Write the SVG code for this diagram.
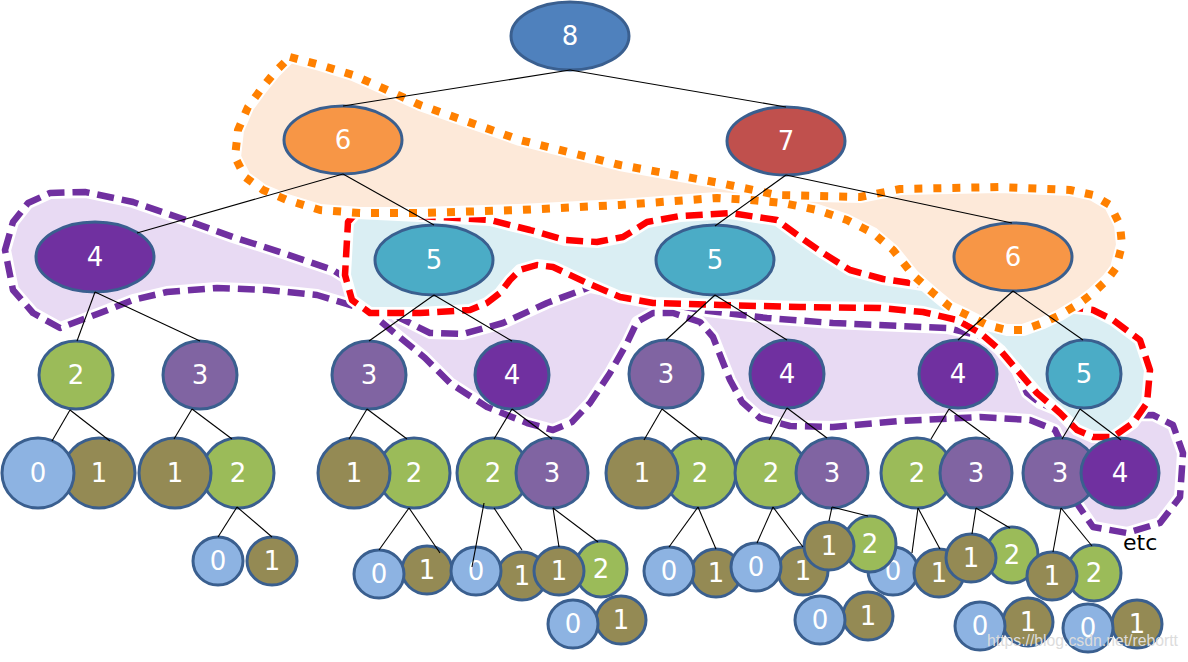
<svg xmlns="http://www.w3.org/2000/svg" xmlns:xlink="http://www.w3.org/1999/xlink" width="1188" height="662" viewBox="0 0 1188 662">
<style>
.bg{fill:#fff}
.halo{stroke:#fff;stroke-width:12;stroke-linejoin:round}
.pf{fill:#E8DAF3}
.bf{fill:#DAEEF3}
.of{fill:#FDE9D9}
.pd{fill:none;stroke:#7030A0;stroke-width:6.5;stroke-dasharray:17 8;stroke-linejoin:round}
.rd{fill:none;stroke:#FF0000;stroke-width:6.5;stroke-dasharray:17 8;stroke-linejoin:round}
.od{fill:none;stroke:#FF8000;stroke-width:8;stroke-dasharray:8 11;stroke-linejoin:round}
.n ellipse{stroke:#3A5F8F;stroke-width:3}
.n text{font-family:"DejaVu Sans",sans-serif;font-size:26px;fill:#fff;text-anchor:middle}
.c0{fill:#8DB3E2}.c1{fill:#948A54}.c2{fill:#9BBB59}.c3{fill:#8064A2}.c4{fill:#7030A0}
.c5{fill:#4BACC6}.c6{fill:#F79646}.c7{fill:#C0504D}.c8{fill:#4F81BD}
#conn line{stroke:#000;stroke-width:1.1}
</style>
<defs>
<path id="purp" d="M5,250 L13,222 L28,203 L50,193 L85,192 L133,202 L183,219 L233,237 L283,253 L333,270 L365,290 L400,318 L430,333 L463,334 L503,323 L547,303 L590,287 L650,300 L700,310 L767,318 L833,323 L900,326 L947,328 L977,335 L1000,345 L1017,370 L1027,393 L1040,403 L1057,410 L1077,416 L1100,416 L1153,415 L1173,425 L1183,453 L1180,497 L1160,523 L1127,533 L1093,527 L1078,505 L1070,460 L1055,430 L1030,420 L980,417 L900,421 L833,427 L790,426 L760,418 L742,402 L730,380 L722,360 L713,337 L700,322 L673,313 L653,313 L637,322 L627,343 L610,373 L590,403 L572,422 L553,430 L527,423 L487,407 L450,383 L425,358 L397,335 L367,310 L317,295 L267,290 L217,288 L167,292 L133,300 L100,313 L60,328 L33,313 L13,290 Z"/>
<path id="blue" d="M348,222 L356,213 L420,216 L490,220 L530,230 L565,240 L597,242 L623,237 L647,222 L680,216 L730,213 L777,220 L800,237 L823,253 L850,270 L883,279 L923,285 L1000,298 L1067,307 L1093,310 L1113,320 L1140,340 L1150,370 L1147,403 L1133,423 L1113,437 L1093,437 L1077,430 L1060,413 L1037,393 L1017,370 L1000,350 L980,333 L957,320 L923,312 L880,308 L800,307 L720,305 L653,303 L620,297 L587,283 L553,267 L537,265 L520,270 L510,280 L500,293 L487,303 L470,310 L420,313 L370,313 L352,300 L345,275 Z"/>
<path id="oran" d="M290,57 L320,65 L353,75 L387,90 L420,105 L520,140 L620,165 L720,183 L777,195 L860,197 L900,189 L1000,187 L1070,190 L1093,195 L1110,205 L1120,225 L1122,245 L1116,268 L1107,280 L1093,293 L1080,303 L1060,315 L1043,323 L1023,330 L1007,330 L987,325 L967,315 L950,307 L933,293 L913,275 L893,250 L873,233 L847,220 L817,210 L783,203 L750,200 L717,198 L620,205 L520,210 L420,213 L360,213 L320,210 L287,200 L263,190 L245,177 L235,157 L238,130 L248,107 L262,88 L275,72 Z"/>
</defs>
<rect class="bg" x="0" y="0" width="1188" height="662"/>
<g id="groups">
<use xlink:href="#purp" class="pf halo"/>
<use xlink:href="#purp" class="pd"/>
<use xlink:href="#blue" class="bf halo"/>
<use xlink:href="#blue" class="rd"/>
<use xlink:href="#oran" class="of halo"/>
<use xlink:href="#oran" class="od"/>
</g>
<g id="nodes" class="n">
<g id="n8"><ellipse class="c8" cx="570" cy="36" rx="59" ry="34"/><text x="570" y="45">8</text></g>
<g id="n6a"><ellipse class="c6" cx="343" cy="140" rx="59" ry="34"/><text x="343" y="149">6</text></g>
<g id="n7"><ellipse class="c7" cx="786" cy="141" rx="59" ry="34"/><text x="786" y="150">7</text></g>
<g id="n4a"><ellipse class="c4" cx="95" cy="257" rx="59" ry="35"/><text x="95" y="266">4</text></g>
<g id="n5a"><ellipse class="c5" cx="434" cy="260" rx="59" ry="35"/><text x="434" y="269">5</text></g>
<g id="n5b"><ellipse class="c5" cx="715" cy="260" rx="59" ry="35"/><text x="715" y="269">5</text></g>
<g id="n6b"><ellipse class="c6" cx="1013" cy="257" rx="59" ry="34"/><text x="1013" y="266">6</text></g>

<g id="n2a"><ellipse class="c2" cx="76" cy="375" rx="37" ry="34"/><text x="76" y="384">2</text></g>
<g id="n3a"><ellipse class="c3" cx="200" cy="375" rx="37" ry="34"/><text x="200" y="384">3</text></g>
<g id="n3b"><ellipse class="c3" cx="369" cy="375" rx="37" ry="34"/><text x="369" y="384">3</text></g>
<g id="n4b"><ellipse class="c4" cx="512" cy="375" rx="37" ry="34"/><text x="512" y="384">4</text></g>
<g id="n3c"><ellipse class="c3" cx="666" cy="374" rx="37" ry="34"/><text x="666" y="383">3</text></g>
<g id="n4c"><ellipse class="c4" cx="787" cy="374" rx="37" ry="34"/><text x="787" y="383">4</text></g>
<g id="n4d"><ellipse class="c4" cx="958" cy="374" rx="39" ry="34"/><text x="958" y="383">4</text></g>
<g id="n5c"><ellipse class="c5" cx="1084" cy="374" rx="37" ry="34"/><text x="1084" y="383">5</text></g>

<g id="l4a1"><ellipse class="c1" cx="99" cy="473" rx="36" ry="35"/><text x="99" y="482">1</text></g>
<g id="l4a0"><ellipse class="c0" cx="38" cy="473" rx="36" ry="35"/><text x="38" y="482">0</text></g>
<g id="l4b2"><ellipse class="c2" cx="238" cy="473" rx="36" ry="35"/><text x="238" y="482">2</text></g>
<g id="l4b1"><ellipse class="c1" cx="175" cy="473" rx="36" ry="35"/><text x="175" y="482">1</text></g>
<g id="l4c2"><ellipse class="c2" cx="414" cy="473" rx="36" ry="35"/><text x="414" y="482">2</text></g>
<g id="l4c1"><ellipse class="c1" cx="354" cy="473" rx="36" ry="35"/><text x="354" y="482">1</text></g>
<g id="l4d2"><ellipse class="c2" cx="493" cy="473" rx="36" ry="35"/><text x="493" y="482">2</text></g>
<g id="l4d3"><ellipse class="c3" cx="552" cy="473" rx="36" ry="35"/><text x="552" y="482">3</text></g>
<g id="l4e2"><ellipse class="c2" cx="700" cy="473" rx="36" ry="35"/><text x="700" y="482">2</text></g>
<g id="l4e1"><ellipse class="c1" cx="642" cy="473" rx="36" ry="35"/><text x="642" y="482">1</text></g>
<g id="l4f2"><ellipse class="c2" cx="771" cy="473" rx="36" ry="35"/><text x="771" y="482">2</text></g>
<g id="l4f3"><ellipse class="c3" cx="832" cy="473" rx="36" ry="35"/><text x="832" y="482">3</text></g>
<g id="l4g2"><ellipse class="c2" cx="917" cy="473" rx="36" ry="35"/><text x="917" y="482">2</text></g>
<g id="l4g3"><ellipse class="c3" cx="976" cy="473" rx="36" ry="35"/><text x="976" y="482">3</text></g>
<g id="l4h3"><ellipse class="c3" cx="1060" cy="473" rx="37" ry="35"/><text x="1060" y="482">3</text></g>
<g id="l4h4"><ellipse class="c4" cx="1120" cy="473" rx="39" ry="35"/><text x="1120" y="482">4</text></g>

<g id="s01"><ellipse class="c1" cx="272" cy="561" rx="25" ry="24"/><text x="272" y="570">1</text></g>
<g id="s02"><ellipse class="c0" cx="218" cy="561" rx="25" ry="24"/><text x="218" y="570">0</text></g>
<g id="s03"><ellipse class="c1" cx="427" cy="570" rx="25" ry="24"/><text x="427" y="579">1</text></g>
<g id="s04"><ellipse class="c0" cx="379" cy="574" rx="25" ry="24"/><text x="379" y="583">0</text></g>
<g id="s05"><ellipse class="c1" cx="522" cy="576" rx="25" ry="24"/><text x="522" y="585">1</text></g>
<g id="s06"><ellipse class="c0" cx="476" cy="571" rx="25" ry="24"/><text x="476" y="580">0</text></g>
<g id="s07"><ellipse class="c2" cx="601" cy="569" rx="26" ry="28"/><text x="601" y="578">2</text></g>
<g id="s08"><ellipse class="c1" cx="559" cy="571" rx="25" ry="24"/><text x="559" y="580">1</text></g>
<g id="s09"><ellipse class="c1" cx="621" cy="620" rx="25" ry="24"/><text x="621" y="629">1</text></g>
<g id="s10"><ellipse class="c0" cx="573" cy="624" rx="25" ry="24"/><text x="573" y="633">0</text></g>
<g id="s11"><ellipse class="c1" cx="716" cy="573" rx="25" ry="24"/><text x="716" y="582">1</text></g>
<g id="s12"><ellipse class="c0" cx="669" cy="571" rx="25" ry="24"/><text x="669" y="580">0</text></g>
<g id="s13"><ellipse class="c1" cx="803" cy="571" rx="25" ry="24"/><text x="803" y="580">1</text></g>
<g id="s14"><ellipse class="c0" cx="756" cy="567" rx="25" ry="24"/><text x="756" y="576">0</text></g>
<g id="s15"><ellipse class="c0" cx="893" cy="571" rx="25" ry="24"/><text x="893" y="580">0</text></g>
<g id="s16"><ellipse class="c2" cx="870" cy="544" rx="26" ry="28"/><text x="870" y="553">2</text></g>
<g id="s17"><ellipse class="c1" cx="829" cy="546" rx="25" ry="24"/><text x="829" y="555">1</text></g>
<g id="s18"><ellipse class="c1" cx="868" cy="616" rx="25" ry="24"/><text x="868" y="625">1</text></g>
<g id="s19"><ellipse class="c0" cx="820" cy="620" rx="25" ry="24"/><text x="820" y="629">0</text></g>
<g id="s20"><ellipse class="c1" cx="939" cy="573" rx="25" ry="24"/><text x="939" y="582">1</text></g>
<g id="s21"><ellipse class="c2" cx="1012" cy="555" rx="26" ry="28"/><text x="1012" y="564">2</text></g>
<g id="s22"><ellipse class="c1" cx="971" cy="558" rx="25" ry="24"/><text x="971" y="567">1</text></g>
<g id="s23"><ellipse class="c2" cx="1094" cy="573" rx="27" ry="28"/><text x="1094" y="582">2</text></g>
<g id="s24"><ellipse class="c1" cx="1052" cy="576" rx="25" ry="24"/><text x="1052" y="585">1</text></g>
<g id="s25"><ellipse class="c1" cx="1028" cy="622" rx="25" ry="24"/><text x="1028" y="631">1</text></g>
<g id="s26"><ellipse class="c0" cx="980" cy="626" rx="25" ry="24"/><text x="980" y="635">0</text></g>
<g id="s27"><ellipse class="c1" cx="1137" cy="624" rx="25" ry="24"/><text x="1137" y="633">1</text></g>
<g id="s28"><ellipse class="c0" cx="1088" cy="628" rx="25" ry="24"/><text x="1088" y="637">0</text></g>
</g>
<g id="conn">
<line x1="570" y1="70" x2="343" y2="106"/>
<line x1="570" y1="70" x2="786" y2="107"/>
<line x1="343" y1="174" x2="137" y2="233"/>
<line x1="343" y1="174" x2="434" y2="225"/>
<line x1="786" y1="175" x2="715" y2="226"/>
<line x1="786" y1="175" x2="1012" y2="223"/>
<line x1="95" y1="292" x2="77" y2="341"/>
<line x1="95" y1="292" x2="200" y2="341"/>
<line x1="434" y1="295" x2="369" y2="341"/>
<line x1="434" y1="295" x2="512" y2="341"/>
<line x1="715" y1="295" x2="666" y2="340"/>
<line x1="715" y1="295" x2="787" y2="340"/>
<line x1="1013" y1="291" x2="958" y2="340"/>
<line x1="1013" y1="291" x2="1083" y2="340"/>
<line x1="70" y1="410" x2="52" y2="441"/>
<line x1="70" y1="410" x2="110" y2="441"/>
<line x1="192" y1="409" x2="174" y2="439"/>
<line x1="192" y1="409" x2="232" y2="439"/>
<line x1="367" y1="409" x2="349" y2="439"/>
<line x1="367" y1="409" x2="407" y2="439"/>
<line x1="512" y1="409" x2="494" y2="439"/>
<line x1="512" y1="409" x2="552" y2="439"/>
<line x1="662" y1="409" x2="644" y2="440"/>
<line x1="662" y1="409" x2="702" y2="440"/>
<line x1="787" y1="408" x2="769" y2="440"/>
<line x1="787" y1="408" x2="827" y2="438"/>
<line x1="949" y1="409" x2="931" y2="439"/>
<line x1="949" y1="409" x2="990" y2="439"/>
<line x1="1080" y1="409" x2="1062" y2="439"/>
<line x1="1080" y1="409" x2="1121" y2="440"/>
<line x1="237" y1="507" x2="218" y2="537"/>
<line x1="237" y1="507" x2="272" y2="537"/>
<line x1="409" y1="508" x2="379" y2="550"/>
<line x1="409" y1="508" x2="440" y2="553"/>
<line x1="484" y1="503" x2="472" y2="567"/>
<line x1="494" y1="508" x2="522" y2="550"/>
<line x1="553" y1="508" x2="559" y2="547"/>
<line x1="553" y1="508" x2="598" y2="542"/>
<line x1="698" y1="507" x2="669" y2="547"/>
<line x1="698" y1="507" x2="716" y2="549"/>
<line x1="773" y1="507" x2="757" y2="543"/>
<line x1="773" y1="507" x2="803" y2="547"/>
<line x1="832" y1="507" x2="829" y2="521"/>
<line x1="832" y1="507" x2="868" y2="516"/>
<line x1="918" y1="508" x2="912" y2="553"/>
<line x1="918" y1="508" x2="940" y2="549"/>
<line x1="976" y1="508" x2="972" y2="534"/>
<line x1="976" y1="508" x2="1010" y2="528"/>
<line x1="1061" y1="508" x2="1053" y2="552"/>
<line x1="1061" y1="508" x2="1092" y2="546"/>
</g>
<text x="1123" y="550" font-family="DejaVu Sans, sans-serif" font-size="22" fill="#000">etc</text>
<text x="987" y="646" font-family="Liberation Sans, sans-serif" font-size="17" fill="#dcdcdc" textLength="191" lengthAdjust="spacingAndGlyphs">https://blog.csdn.net/rebortt</text>
</svg>
